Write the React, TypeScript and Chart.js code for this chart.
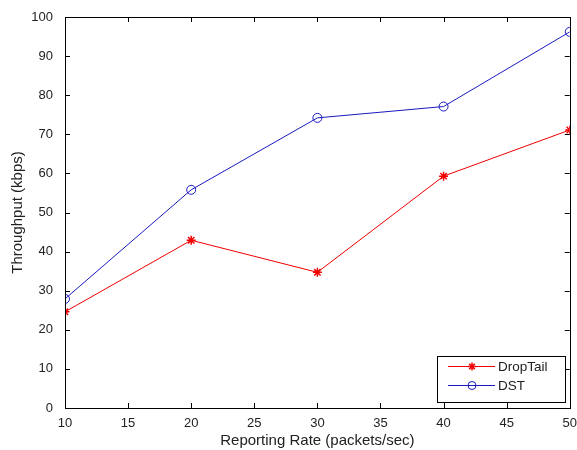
import React, { useEffect, useRef } from "react";
import { Chart, registerables } from "chart.js";

Chart.register(...registerables);

const rates = [10, 20, 30, 40, 50];
const dropTail = [24.6, 42.9, 34.7, 59.3, 71.1];
const dst = [27.9, 55.8, 74.2, 77.1, 96.2];
const xTicks = [10, 15, 20, 25, 30, 35, 40, 45, 50];
const yTicks = [0, 10, 20, 30, 40, 50, 60, 70, 80, 90, 100];
const seriesNames = ["DropTail", "DST"];

const RED = "#f00000";
const BLUE = "#1a1ac0";
const FONT = "'Liberation Sans', Arial, sans-serif";

const framePlugin = {
  id: "matlabFrame",
  afterDraw(chart: any) {
    const ctx = chart.ctx;
    const { left, right, top, bottom } = chart.chartArea;
    const xs = chart.scales.x;
    const ys = chart.scales.y;
    ctx.save();
    ctx.strokeStyle = "#000";
    ctx.lineWidth = 1;
    ctx.strokeRect(Math.round(left) + 0.5, Math.round(top) + 0.5, Math.round(right - left), Math.round(bottom - top));
    const tl = 5;
    ctx.beginPath();
    xTicks.forEach((v) => {
      const px = Math.round(xs.getPixelForValue(v)) + 0.5;
      ctx.moveTo(px, bottom);
      ctx.lineTo(px, bottom - tl);
      ctx.moveTo(px, top);
      ctx.lineTo(px, top + tl);
    });
    yTicks.forEach((v) => {
      const py = Math.round(ys.getPixelForValue(v)) + 0.5;
      ctx.moveTo(left, py);
      ctx.lineTo(left + tl, py);
      ctx.moveTo(right, py);
      ctx.lineTo(right - tl, py);
    });
    ctx.stroke();

    // legend
    const bx = 437, by = 356, bw = 128, bh = 46;
    ctx.fillStyle = "#fff";
    ctx.fillRect(bx, by, bw, bh);
    ctx.strokeStyle = "#000";
    ctx.strokeRect(bx + 0.5, by + 0.5, bw, bh);
    const rows = [366, 385];
    const colors = [RED, BLUE];
    ctx.font = `13.5px ${FONT}`;
    ctx.textBaseline = "middle";
    ctx.textAlign = "left";
    seriesNames.forEach((name, i) => {
      const y = rows[i] + 0.5;
      ctx.strokeStyle = colors[i];
      ctx.lineWidth = 1;
      ctx.beginPath();
      ctx.moveTo(448, y);
      ctx.lineTo(495, y);
      ctx.stroke();
      ctx.beginPath();
      if (i === 0) {
        const r = 4;
        ctx.lineWidth = 1.5;
        ctx.moveTo(472 - r, y);
        ctx.lineTo(472 + r, y);
        ctx.moveTo(472, y - r);
        ctx.lineTo(472, y + r);
        const d = r * 0.7;
        ctx.moveTo(472 - d, y - d);
        ctx.lineTo(472 + d, y + d);
        ctx.moveTo(472 - d, y + d);
        ctx.lineTo(472 + d, y - d);
      } else {
        ctx.arc(472, y, 4, 0, Math.PI * 2);
      }
      ctx.stroke();
      ctx.fillStyle = "#222";
      ctx.fillText(name, 498, rows[i] + 1);
    });
    ctx.restore();
  },
};

export default function App() {
  const ref = useRef<HTMLCanvasElement>(null);
  useEffect(() => {
    const chart = new Chart(ref.current!, {
      type: "line",
      data: {
        datasets: [
          {
            label: seriesNames[0],
            data: rates.map((r, i) => ({ x: r, y: dropTail[i] })),
            borderColor: RED,
            backgroundColor: RED,
            borderWidth: 1,
            pointStyle: "star",
            pointRadius: 4.5,
            pointBorderWidth: 1.5,
            pointBorderColor: RED,
            tension: 0,
          },
          {
            label: seriesNames[1],
            data: rates.map((r, i) => ({ x: r, y: dst[i] })),
            borderColor: BLUE,
            backgroundColor: "transparent",
            borderWidth: 1,
            pointStyle: "circle",
            pointRadius: 4.5,
            pointBorderWidth: 1,
            pointBorderColor: BLUE,
            pointBackgroundColor: "transparent",
            tension: 0,
          },
        ],
      },
      options: {
        animation: false,
        responsive: false,
        maintainAspectRatio: false,
        layout: { padding: { top: 17, right: 7, left: 0, bottom: 0 } },
        plugins: { legend: { display: false }, tooltip: { enabled: false } },
        scales: {
          x: {
            type: "linear",
            min: 10,
            max: 50,
            afterBuildTicks: (s: any) => {
              s.ticks = xTicks.map((v) => ({ value: v }));
            },
            grid: { display: false },
            border: { display: false },
            ticks: { color: "#222", font: { family: FONT, size: 13 }, padding: 0, maxRotation: 0 },
            title: {
              display: true,
              text: "Reporting Rate (packets/sec)",
              color: "#222",
              font: { family: FONT, size: 15 },
              padding: { top: 0, bottom: 0 },
            },
            afterFit: (s: any) => {
              s.height = 42;
            },
          },
          y: {
            type: "linear",
            min: 0,
            max: 100,
            afterBuildTicks: (s: any) => {
              s.ticks = yTicks.map((v) => ({ value: v }));
            },
            grid: { display: false },
            border: { display: false },
            ticks: { color: "#222", font: { family: FONT, size: 13 }, padding: 4 },
            title: {
              display: true,
              text: "Throughput (kbps)",
              color: "#222",
              font: { family: FONT, size: 15 },
              padding: { top: 9, bottom: 0 },
            },
            afterFit: (s: any) => {
              s.width = 65;
            },
          },
        },
      },
      plugins: [framePlugin],
    });
    return () => chart.destroy();
  }, []);
  return (
    <div style={{ position: "fixed", left: 0, top: 0, width: 577, height: 450, background: "#fff" }}>
      <canvas ref={ref} width={577} height={450} style={{ display: "block" }} />
    </div>
  );
}
